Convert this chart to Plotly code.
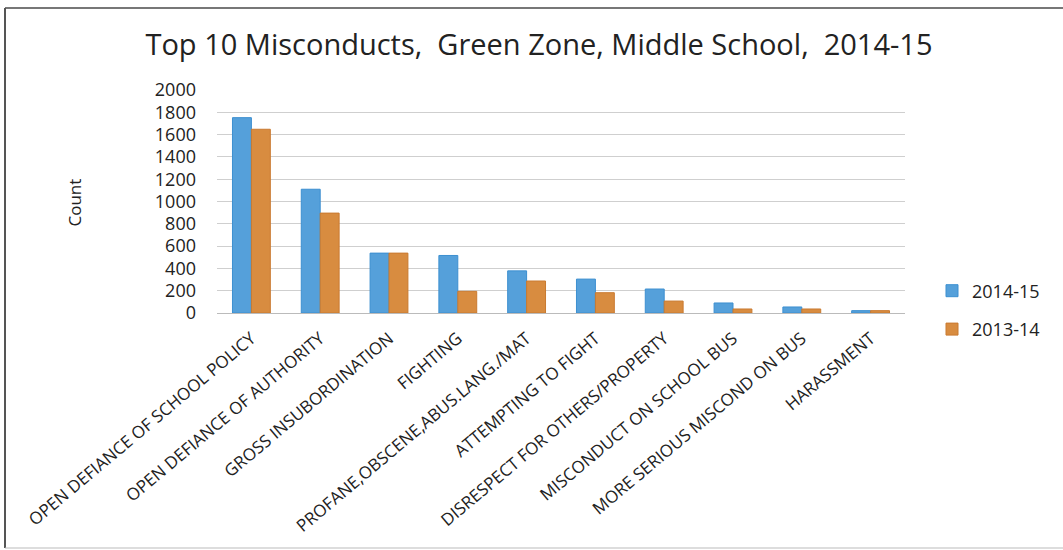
import plotly.graph_objects as go

categories = [
    "OPEN DEFIANCE OF SCHOOL POLICY",
    "OPEN DEFIANCE OF AUTHORITY",
    "GROSS INSUBORDINATION",
    "FIGHTING",
    "PROFANE,OBSCENE,ABUS.LANG./MAT",
    "ATTEMPTING TO FIGHT",
    "DISRESPECT FOR OTHERS/PROPERTY",
    "MISCONDUCT ON SCHOOL BUS",
    "MORE SERIOUS MISCOND ON BUS",
    "HARASSMENT",
]
counts_2014_15 = [1752, 1110, 537, 516, 378, 304, 215, 90, 54, 21]
counts_2013_14 = [1648, 896, 537, 194, 287, 182, 107, 36, 36, 21]

FONT = "Open Sans"
BLUE = "#55a0da"
ORANGE = "#d88c40"

# plot area in pixels: x 217..905, y 90..313
L, R, T, B = 217, 905, 90, 313
W, H = 1063, 550
def px_x(p):
    return (p - L) / (R - L)
def px_y(p):
    return (B - p) / (B - T)

fig = go.Figure()
fig.add_trace(go.Bar(
    x=categories, y=counts_2014_15, name="2014-15", legendgroup="a",
    marker=dict(color=BLUE, line=dict(color="#3c8fd0", width=1)),
))
fig.add_trace(go.Bar(
    x=categories, y=counts_2013_14, name="2013-14", legendgroup="b",
    marker=dict(color=ORANGE, line=dict(color="#c97a30", width=1)),
))

fig.update_layout(
    width=W, height=H,
    margin=dict(l=L, r=W - R, t=T, b=H - B, autoexpand=False),
    paper_bgcolor="white", plot_bgcolor="white",
    font=dict(family=FONT, color="#222222"),
    title=dict(text="Top 10 Misconducts,  Green Zone, Middle School,  2014-15",
               x=539 / W, xanchor="center", y=1 - 45 / H, yanchor="middle",
               font=dict(size=29, family=FONT, color="#222222")),
    barmode="group", bargap=0.45, bargroupgap=0.0,
    showlegend=True,
    legend=dict(x=px_x(932), xanchor="left", y=px_y(310), yanchor="middle",
                font=dict(size=18, family=FONT, color="#222222"),
                tracegroupgap=12, itemwidth=30, bgcolor="rgba(0,0,0,0)"),
    xaxis=dict(tickangle=-40, tickfont=dict(size=17, family=FONT, color="#222222"),
               showline=True, linecolor="#bbbbbb", linewidth=1, ticks="",
               ticklabelstandoff=8),
    yaxis=dict(range=[0, 2000], dtick=200, tickfont=dict(size=18, family=FONT, color="#222222"),
               showgrid=True, gridcolor="#cfcfcf", gridwidth=1, zeroline=False,
               ticklabelstandoff=20),
    annotations=[dict(text="Count", xref="paper", yref="paper", x=px_x(60), y=px_y(203),
                      textangle=-90, showarrow=False,
                      font=dict(size=17, family=FONT, color="#222222"))],
    shapes=[
        dict(type="line", xref="paper", yref="paper", x0=px_x(5), x1=px_x(1063),
             y0=px_y(8), y1=px_y(8), line=dict(color="#777777", width=2)),
        dict(type="line", xref="paper", yref="paper", x0=px_x(5), x1=px_x(5),
             y0=px_y(8), y1=px_y(548), line=dict(color="#555555", width=2)),
        dict(type="line", xref="paper", yref="paper", x0=px_x(5), x1=px_x(1063),
             y0=px_y(548), y1=px_y(548), line=dict(color="#bbbbbb", width=1)),
    ],
)

fig.write_html("out.html",
               config={"displayModeBar": False},
               post_script="document.body.style.margin='0';document.body.style.overflow='hidden';")
